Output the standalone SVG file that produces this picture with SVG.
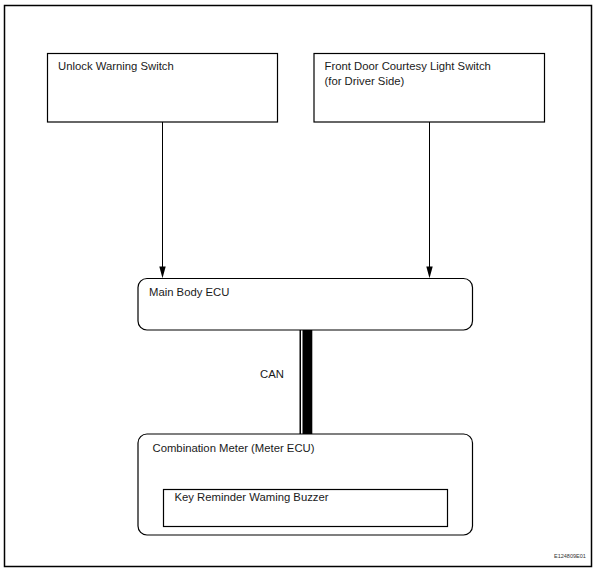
<svg xmlns="http://www.w3.org/2000/svg" width="596" height="572" viewBox="0 0 596 572">
<style>
.box{fill:#fff;stroke:#000;stroke-width:1.2}
.t{font-family:"Liberation Sans",Arial,sans-serif;font-size:11.3px;fill:#1a1a1a}
.ln{stroke:#000;stroke-width:1;fill:none}
.ah{fill:#000}
</style>
<rect x="0" y="0" width="596" height="572" fill="#fff"/>
<rect x="4.5" y="5.5" width="587" height="561" fill="none" stroke="#000" stroke-width="1.5"/>
<g id="unlock-switch">
<rect class="box" x="47.5" y="53.5" width="230" height="68.5"/>
<text class="t" x="58" y="70">Unlock Warning Switch</text>
</g>
<g id="courtesy-switch">
<rect class="box" x="314" y="53.5" width="230.5" height="68.5"/>
<text class="t" x="324.5" y="69.5">Front Door Courtesy Light Switch</text>
<text class="t" x="324.5" y="84.5">(for Driver Side)</text>
</g>
<g id="main-body-ecu">
<rect class="box" x="138" y="278.5" width="334.5" height="51.5" rx="9"/>
<text class="t" x="149" y="296">Main Body ECU</text>
</g>
<g id="combination-meter">
<rect class="box" x="138" y="434" width="334.5" height="101" rx="9"/>
<text class="t" x="152.5" y="452">Combination Meter (Meter ECU)</text>
<g id="buzzer">
<rect class="box" x="163.5" y="489.5" width="284" height="37"/>
<text class="t" x="174.5" y="501">Key Reminder Waming Buzzer</text>
</g>
</g>
<g id="connectors">
<line class="ln" x1="162.5" y1="122" x2="162.5" y2="268"/>
<path class="ah" d="M159.3,266.5 L165.7,266.5 L162.5,278.2 Z"/>
<line class="ln" x1="429.5" y1="122" x2="429.5" y2="268"/>
<path class="ah" d="M426.3,266.5 L432.7,266.5 L429.5,278.2 Z"/>
<rect x="299.5" y="330" width="1.5" height="104" fill="#000"/>
<rect x="302.5" y="330" width="9.8" height="104" fill="#000"/>
<text class="t" x="260" y="378">CAN</text>
</g>
<text x="554" y="558" font-family="Liberation Sans,Arial,sans-serif" font-size="5.5" fill="#333">E124809E01</text>
</svg>
